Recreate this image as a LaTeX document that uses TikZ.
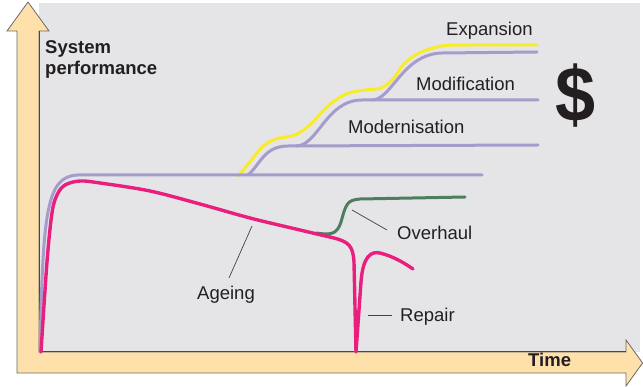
\documentclass[tikz,border=0pt]{standalone}
\usepackage{fontspec}
\setmainfont{Liberation Sans}
\definecolor{bggray}{RGB}{229,229,231}
\definecolor{tan}{RGB}{254,224,170}
\definecolor{edgegray}{RGB}{105,105,105}
\definecolor{lav}{RGB}{165,156,204}
\definecolor{ylw}{RGB}{248,236,40}
\definecolor{pnk}{RGB}{234,30,125}
\definecolor{grn}{RGB}{78,125,95}
\definecolor{txt}{RGB}{35,31,32}
\begin{document}
\begin{tikzpicture}[x=1pt,y=-1pt,
  lbl/.style={anchor=base west,inner sep=0pt,text=txt,font=\fontsize{18.5}{21}\selectfont},
  blbl/.style={lbl,font=\fontsize{18.5}{21}\selectfont\bfseries},
  lavline/.style={draw=lav,line width=3pt,line cap=round,line join=round},
  ylwline/.style={draw=ylw,line width=3pt,line cap=round,line join=round},
  pnkline/.style={draw=pnk,line width=3.4pt,line cap=round,line join=round},
  grnline/.style={draw=grn,line width=3pt,line cap=round,line join=round},
  leader/.style={draw=txt!85,line width=0.7pt}]
\useasboundingbox (0,0) rectangle (643,387);
% background panel
\fill[bggray] (39,3) rectangle (640,352);
% axes arrow (L shape)
\draw[edgegray,line width=0.8pt,fill=tan,line join=miter]
  (17,373) -- (17,31) -- (7,31) -- (28,2) -- (49,31) -- (39,31) -- (39,352)
  -- (626,352) -- (626,340) -- (642.6,363) -- (626,386) -- (626,373) -- cycle;
\draw[edgegray!70!black,line width=1pt] (39,31) -- (39,352) -- (626,352);
% yellow expansion curve
\draw[ylwline] plot[smooth,tension=0.55] coordinates {(238,176) (250,162) (262,147) (276,139) (295,135) (311,124) (328,106) (346,94) (365,90) (381,88) (393,79) (404,64) (419,53) (442,46) (470,45) (537,45)};
% lavender curves
\draw[lavline] (40,352) .. controls (43,212) and (46,176) .. (78,175) -- (482,175);
\draw[lavline] (248,175) .. controls (260,165) and (264,146) .. (288,146) -- (538,145);
\draw[lavline] (296,146) .. controls (318,146) and (326,100) .. (362,100) -- (538,100);
\draw[lavline] (372,100) .. controls (392,100) and (402,54) .. (442,53) -- (537,52);
% green overhaul curve
\draw[grnline] (316,233) .. controls (330,235) and (337,235) .. (341,222) .. controls (346,204) and (347,200) .. (360,199) -- (465,197);
% pink ageing curve
\draw[pnkline] plot[smooth,tension=0.55] coordinates {(41,352) (47,262) (52,213) (57,195) (65,185) (80,181) (100,183) (150,191) (200,204) (250,218) (300,230) (334,238)}
  .. controls (349,242) and (353,246) .. (354,262) -- (356,352) -- (361,282)
  .. controls (363,256) and (371,251) .. (380,253) .. controls (392,256) and (403,262) .. (413,269);
% labels
\node[blbl] (sys) at (45,54) {System};
\node[blbl] (perf) at (45,75) {performance};
\node[blbl] (time) at (528,367) {Time};
\node[lbl] (exp) at (446,36) {Expansion};
\node[lbl] (mod) at (416,91) {Modification};
\node[lbl] (modern) at (348,134) {Modernisation};
\node[lbl] (age) at (197,300) {Ageing};
\node[lbl] (ovh) at (397,240) {Overhaul};
\node[lbl] (rep) at (400,322) {Repair};
\node[anchor=base,inner sep=0pt,text=txt,font=\fontsize{72}{72}\selectfont\bfseries] (dollar) at (575.5,122) {\scalebox{1}[1.08]{\$}};
% leader lines
\coordinate (ageA) at (229,278); \coordinate (ageB) at (252,226);
\coordinate (ovhA) at (352,210); \coordinate (ovhB) at (387,230);
\coordinate (repA) at (368,315); \coordinate (repB) at (392,315);
\draw[leader] (ageA) -- (ageB);
\draw[leader] (ovhA) -- (ovhB);
\draw[leader] (repA) -- (repB);
\end{tikzpicture}
\end{document}
